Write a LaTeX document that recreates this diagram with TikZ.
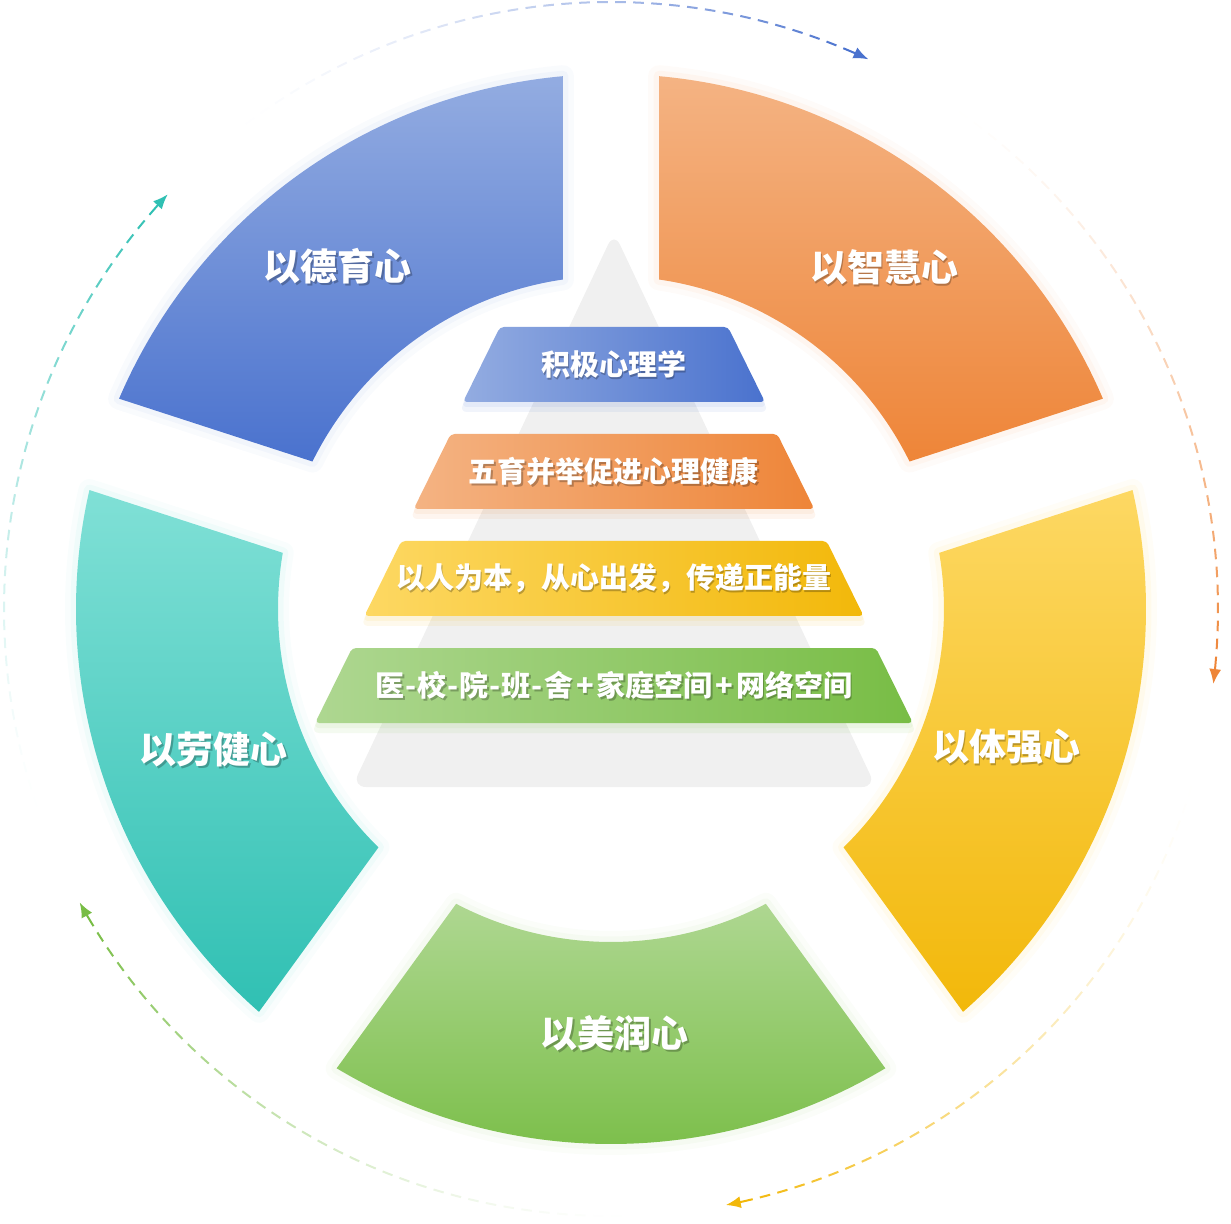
\documentclass[tikz,border=0pt]{standalone}
\usepackage{fontspec}
\newfontfamily\cjk{Noto Sans CJK SC}
\usetikzlibrary{arrows.meta}

\definecolor{deyuA}{HTML}{93ACE1}
\definecolor{deyuB}{HTML}{4A72CE}
\definecolor{zhiyuA}{HTML}{F4B383}
\definecolor{zhiyuB}{HTML}{EE8538}
\definecolor{tiyuA}{HTML}{FDD863}
\definecolor{tiyuB}{HTML}{F2B80A}
\definecolor{meiyuA}{HTML}{AED791}
\definecolor{meiyuB}{HTML}{78BD45}
\definecolor{laoyuA}{HTML}{80E0D6}
\definecolor{laoyuB}{HTML}{30C0B3}
\definecolor{pyr}{HTML}{F0F0F0}

\newcommand{\hy}{\kern1pt-\kern1pt}
\newcommand{\pl}{\kern3pt+\kern3pt}

\begin{document}
\begin{tikzpicture}[x=1pt,y=1pt]
    \tikzstyle{seg text}=[font=\cjk\bfseries\fontsize{37}{40}\selectfont,text=white,inner sep=0pt]
    \tikzstyle{band text}=[font=\cjk\bfseries\fontsize{29}{32}\selectfont,text=white,inner sep=0pt]
    \tikzstyle{text shadow}=[text=black,text opacity=0.25,xshift=1.5pt,yshift=-2pt]

    \useasboundingbox (-611,-614) rectangle (620,609);

    % dashed arrows round the ring
    \foreach \s/\col in {127/deyuB,55/zhiyuB,-17/tiyuB,-89/meiyuB,-161/laoyuB}{
      \foreach \k in {0,...,34}{
        \pgfmathsetmacro{\ang}{\s-1.7*\k}
        \pgfmathsetmacro{\op}{((\k+1)/36)^1.6}
        \draw[\col,line width=2pt,opacity=\op] (\ang:607) arc[start angle=\ang,delta angle=-1,radius=607];
      }
      \pgfmathsetmacro{\ang}{\s-1.7*35}
      \draw[\col,line width=2pt,-{Latex[length=15pt,width=12pt]}] (\ang:607) arc[start angle=\ang,delta angle=-2.6,radius=607];
    }

    % ring segments
    \foreach \b/\ca/\cb in {90/deyuA/deyuB,18/zhiyuA/zhiyuB,-54/tiyuA/tiyuB,-126/meiyuA/meiyuB,162/laoyuA/laoyuB}
    \shade[top color=\ca,bottom color=\cb,
      preaction={draw=\ca,line width=22pt,opacity=0.05,line join=round},
      preaction={draw=\ca,line width=11pt,opacity=0.08,line join=round}]
      ({\b+5.15}:535) arc[start angle=\b+5.15,end angle=\b+66.85,radius=535]
      -- ({\b+63.71}:333) arc[start angle=\b+63.71,end angle=\b+8.29,radius=333] -- cycle;

    \foreach \x/\y/\name/\txt in {-273/343/deyu/以德育心,273/342/zhiyu/以智慧心,395/-138/tiyu/以体强心,4/-424/meiyu/以美润心,-397/-140/laoyu/以劳健心}{
      \node[seg text,text shadow] (\name-s) at (\x,\y) {\txt};
      \node[seg text] (\name) at (\x,\y) {\txt};
    }

    % pyramid
    \fill[pyr,rounded corners=14pt] (3,377) -- (265,-178) -- (-259,-178) -- cycle;

    \foreach \i/\ca/\cb/\txt in {0/deyuA/deyuB/{积极心理学},1/zhiyuA/zhiyuB/{五育并举促进心理健康},2/tiyuA/tiyuB/{以人为本，从心出发，传递正能量},3/meiyuA/meiyuB/{医\hy 校\hy 院\hy 班\hy 舍\pl 家庭空间\pl 网络空间}}{
      \pgfmathsetmacro{\yt}{282-107*\i}
      \pgfmathsetmacro{\yb}{207-107*\i}
      \pgfmathsetmacro{\wt}{114+49.3*\i}
      \pgfmathsetmacro{\wb}{151+49.3*\i}
      \fill[\cb,opacity=0.08,rounded corners=8pt] (3-\wb-4,\yb-10) -- (3+\wb+4,\yb-10) -- (3+\wt,\yt-10) -- (3-\wt,\yt-10) -- cycle;
      \fill[\cb,opacity=0.08,rounded corners=6pt] (3-\wb-2,\yb-5) -- (3+\wb+2,\yb-5) -- (3+\wt,\yt-5) -- (3-\wt,\yt-5) -- cycle;
      \shade[left color=\ca,right color=\cb,rounded corners=4pt] (3-\wb,\yb) -- (3+\wb,\yb) -- (3+\wt,\yt) -- (3-\wt,\yt) -- cycle;
      \node[band text,text shadow] (B-\i-s) at (3,{(\yt+\yb)/2}) {\txt};
      \node[band text] (B-\i) at (3,{(\yt+\yb)/2}) {\txt};
    }
\end{tikzpicture}
\end{document}
